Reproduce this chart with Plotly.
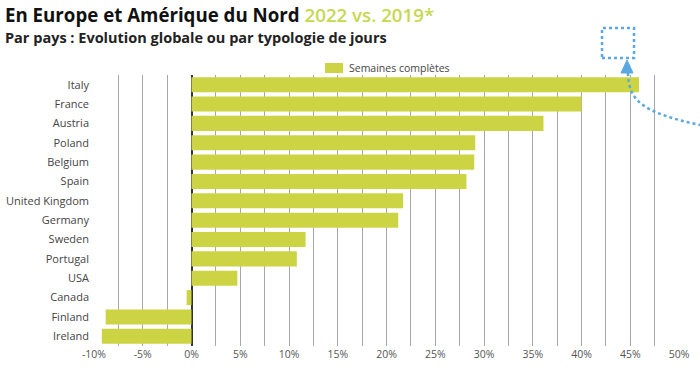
import plotly.graph_objects as go

countries = ["Italy", "France", "Austria", "Poland", "Belgium", "Spain", "United Kingdom",
             "Germany", "Sweden", "Portugal", "USA", "Canada", "Finland", "Ireland"]
values = [45.9, 40.0, 36.1, 29.1, 29.0, 28.2, 21.7, 21.2, 11.7, 10.8, 4.7, -0.5, -8.8, -9.2]
tick_vals = [-10, -5, 0, 5, 10, 15, 20, 25, 30, 35, 40, 45, 50]
tick_text = [f"{v}%" for v in tick_vals]
series_name = "Semaines complètes"

W, H = 700, 371
L, R, T, B = 94, 21, 75, 25
pw, ph = W - L - R, H - T - B

def px(x):
    return (x - L) / pw

def py(y):
    return (H - B - y) / ph

BAR = "#CCD444"
BLUE = "#5AA8E2"
FONT = "Open Sans"

fig = go.Figure()
fig.add_trace(go.Bar(
    y=countries, x=values, orientation="h", name=series_name,
    marker=dict(color=BAR, line=dict(width=0)), showlegend=False,
))

fig.update_layout(
    width=W, height=H,
    margin=dict(l=L, r=R, t=T, b=B, autoexpand=False),
    paper_bgcolor="white", plot_bgcolor="white",
    bargap=0.22,
    font=dict(family=FONT, color="#444444", size=10),
    showlegend=False,
    xaxis=dict(range=[-10, 50], tickvals=tick_vals, ticktext=tick_text,
               showgrid=True, gridcolor="#A8A8A8", gridwidth=1,
               minor=dict(dtick=2.5, tick0=0, showgrid=True, gridcolor="#A8A8A8", gridwidth=1),
               zeroline=True, zerolinecolor="#333333", zerolinewidth=1.5,
               showline=False, ticks="", tickfont=dict(size=10.5, color="#555555"),
               fixedrange=True, automargin=False),
    yaxis=dict(categoryorder="array", categoryarray=countries, autorange="reversed",
               showgrid=False, ticks="", ticklabelstandoff=4, automargin=False,
               tickfont=dict(size=11, color="#444444"), fixedrange=True),
)

# legend (swatch + label)
fig.add_shape(type="rect", xref="paper", yref="paper",
              x0=px(325), x1=px(343), y0=py(73), y1=py(63),
              line=dict(width=0), fillcolor=BAR)
fig.add_annotation(
    xref="paper", yref="paper", x=px(347), y=py(68), xanchor="left", yanchor="middle",
    showarrow=False, text=series_name, font=dict(family=FONT, size=10.5, color="#444444"),
)

fig.add_annotation(
    xref="paper", yref="paper", x=px(3), y=py(0), xanchor="left", yanchor="top",
    showarrow=False, align="left",
    text="<b>En Europe et Amérique du Nord</b> <span style='color:#C6D84E;font-weight:600'>2022 vs. 2019*</span>",
    font=dict(family=FONT, size=18.7, color="#111111"),
)
fig.add_annotation(
    xref="paper", yref="paper", x=px(3), y=py(26), xanchor="left", yanchor="top",
    showarrow=False, align="left",
    text="<b>Par pays : Evolution globale ou par typologie de jours</b>",
    font=dict(family=FONT, size=14.5, color="#222222"),
)

# dotted callout box, arrow and curve
fig.add_shape(type="rect", xref="paper", yref="paper",
              x0=px(602), x1=px(634), y0=py(58), y1=py(28),
              line=dict(color=BLUE, width=2.5, dash="dot"), fillcolor="rgba(0,0,0,0)")
fig.add_shape(type="path", xref="paper", yref="paper",
              path=f"M {px(627)} {py(60)} L {px(621)} {py(73)} L {px(633)} {py(73)} Z",
              line=dict(color=BLUE, width=1), fillcolor=BLUE)
fig.add_shape(type="path", xref="paper", yref="paper",
              path=(f"M {px(628)} {py(73)} C {px(629)} {py(100)}, {px(640)} {py(112)}, "
                    f"{px(700)} {py(125)}"),
              line=dict(color=BLUE, width=2.5, dash="dot"))

fig.write_html("out.html", config={"displayModeBar": False},
               post_script="document.body.style.margin='0';document.body.style.overflow='hidden';")
